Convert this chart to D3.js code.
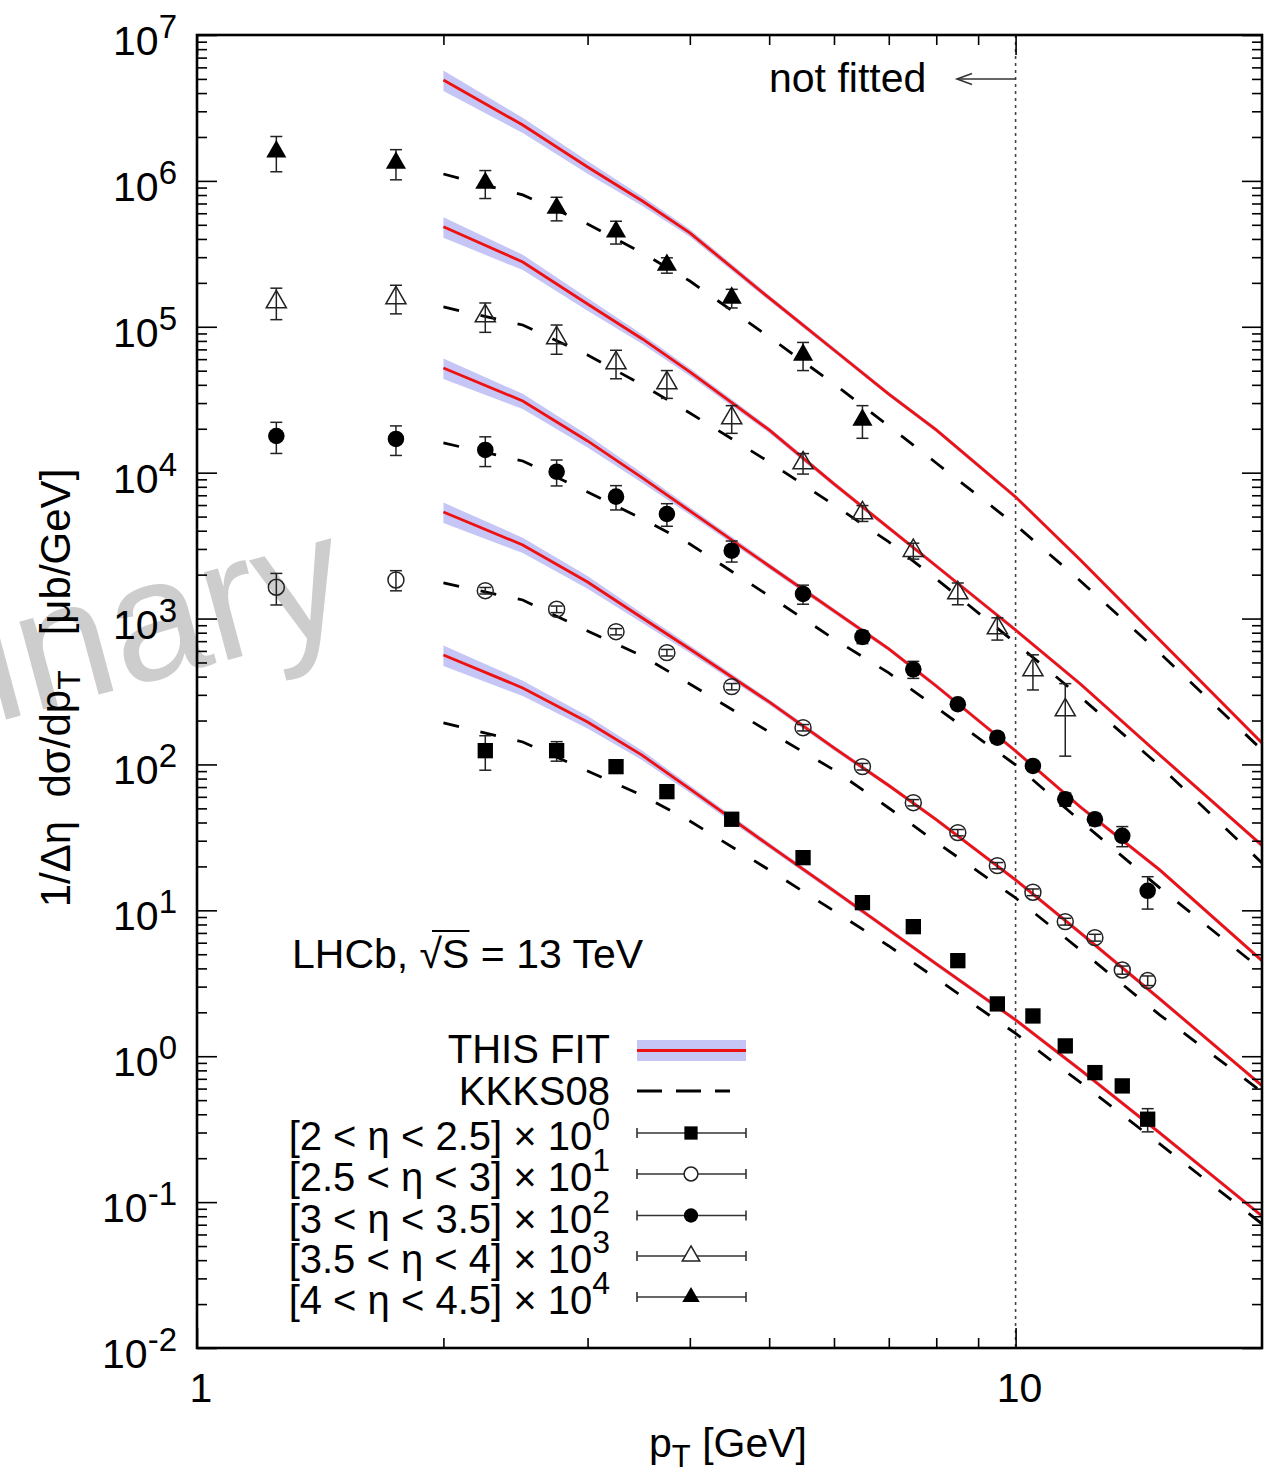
<!DOCTYPE html>
<html>
<head>
<meta charset="utf-8">
<script src="https://cdn.jsdelivr.net/npm/d3@7"></script>
<style>
  html, body { margin: 0; padding: 0; background: #fff; }
  svg { display: block; font-family: "Liberation Sans", Arial, Helvetica, sans-serif; }
</style>
</head>
<body>
<svg id="chart" width="1272" height="1476"></svg>
<script>
// ---------------- data ----------------
// LHCb 13 TeV, 1/Δη dσ/dpT [μb/GeV], each η bin scaled by 10^k
const etaLabels = ["[2 < η < 2.5]", "[2.5 < η < 3]", "[3 < η < 3.5]", "[3.5 < η < 4]", "[4 < η < 4.5]"];
const scaleExp = ["0", "1", "2", "3", "4"];

// measured points (pT bin centres, scaled values, errors)
const ptBin1 = [2.25, 2.75, 3.25, 3.75, 4.5, 5.5, 6.5, 7.5, 8.5, 9.5, 10.5, 11.5, 12.5, 13.5, 14.5];
const valBin1 = [124.3, 124.3, 96.6, 65.1, 42.1, 22.97, 11.29, 7.73, 4.52, 2.283, 1.888, 1.177, 0.772, 0.626, 0.370];
const errBin1 = [33, 19, 4, 2.6, 1.7, 0.9, 0.45, 0.3, 0.18, 0.09, 0.08, 0.05, 0.035, 0.03, 0.067];

const ptBin2 = [1.25, 1.75, 2.25, 2.75, 3.25, 3.75, 4.5, 5.5, 6.5, 7.5, 8.5, 9.5, 10.5, 11.5, 12.5, 13.5, 14.5];
const valBin2 = [1639, 1839, 1553, 1158, 813, 584, 341.5, 178.7, 96.6, 54.7, 34.1, 20.25, 13.31, 8.37, 6.50, 3.90, 3.30];
const errBin2 = [400, 290, 80, 60, 40, 30, 17, 9, 5, 2.7, 1.7, 1.0, 0.7, 0.45, 0.35, 0.25, 0.25];

const ptBin3 = [1.25, 1.75, 2.25, 2.75, 3.25, 3.75, 4.5, 5.5, 6.5, 7.5, 8.5, 9.5, 10.5, 11.5, 12.5, 13.5, 14.5];
const valBin3 = [17840, 17020, 14310, 10160, 6850, 5210, 2920, 1474, 748, 449, 258.6, 152.6, 97.7, 57.7, 42.1, 32.4, 13.6];
const errBin3 = [4300, 3900, 3300, 2050, 1300, 920, 480, 220, 75, 60, 20, 12, 8, 6, 4, 5.1, 3.4];

const ptBin4 = [1.25, 1.75, 2.25, 2.75, 3.25, 3.75, 4.5, 5.5, 6.5, 7.5, 8.5, 9.5, 10.5, 11.5];
const valBin4 = [147900, 157600, 118600, 83800, 56500, 41200, 23700, 11650, 5290, 2920, 1498, 862, 444, 236];
const errBin4 = [36000, 35000, 27000, 19000, 12500, 8900, 5100, 1870, 660, 365, 255, 150, 120, 122];

const ptBin5 = [1.25, 1.75, 2.25, 2.75, 3.25, 3.75, 4.5, 5.5, 6.5];
const valBin5 = [1585000, 1327000, 967000, 652000, 449000, 265000, 157600, 64100, 23000];
const errBin5 = [430000, 310000, 210000, 120000, 80000, 32000, 23000, 14000, 5800];

// theory curves on a common pT grid
const ptGrid = [2, 2.5, 3, 3.5, 4, 5, 6, 7, 8, 10, 12, 15, 20];
const fitBin1 = [563, 334.5, 195.6, 115.3, 67.95, 27.85, 13.58, 7.34, 4.29, 1.774, 0.806, 0.298, 0.0804];
const fitBin2 = [5380, 3195, 1781, 1009, 618.9, 268.2, 129.8, 71.7, 41.9, 16.16, 7.00, 2.47, 0.629];
const fitBin3 = [52200, 31000, 16500, 9200, 5470, 2293, 1128, 619, 345, 123.7, 51.1, 18.92, 4.52];
const fitBin4 = [485400, 278100, 143300, 82500, 49000, 19620, 8370, 4180, 2293, 835, 356, 116.2, 27.85];
const fitBin5 = [4916000, 2416000, 1245000, 728000, 440000, 157600, 69300, 34600, 19620, 6820, 2520, 713, 140.4];
// relative uncertainty of the fit (band half-width)
const fitBandRel = [0.16, 0.12, 0.10, 0.075, 0.06, 0.045, 0.04, 0.035, 0.035, 0.035, 0.035, 0.035, 0.035];

const kkksBin1 = [192.5, 142.6, 90.2, 61.3, 41.0, 18.92, 9.91, 5.70, 3.414, 1.433, 0.661, 0.2506, 0.0709];
const kkksBin2 = [1754, 1341, 822, 554, 356, 167.1, 91.7, 50.3, 29.4, 12.16, 5.35, 1.919, 0.569];
const kkksBin3 = [15980, 12030, 7370, 4820, 3245, 1428, 725, 424, 245.9, 99.2, 41.0, 14.24, 3.90];
const kkksBin4 = [136700, 102900, 64100, 39900, 25660, 11840, 6000, 3350, 1868, 680.5, 290.1, 97.7, 21.13];
const kkksBin5 = [1115000, 801000, 507000, 320500, 206000, 85100, 40550, 20900, 11650, 4380, 1810, 581, 125.7];

const yDecades = [-2, -1, 0, 1, 2, 3, 4, 5, 6, 7];
const xMajor = [1, 10];
const xMinor = [2, 3, 4, 5, 6, 7, 8, 9];
const fitCut = 10;

// ---------------- layout ----------------
const plot = { left: 197, right: 1262, top: 35, bottom: 1348 };
const RED = "#ee1111";
const BAND = "#c6c6f6";

const x = d3.scaleLog().domain([1, 20]).range([plot.left, plot.right]);
const y = d3.scaleLog().domain([1e-2, 1e7]).range([plot.bottom, plot.top]);

const svg = d3.select("#chart");

const markerOf = [
  { type: d3.symbolSquare, size: 235, filled: true },
  { type: d3.symbolCircle, size: 200, filled: false },
  { type: d3.symbolCircle, size: 215, filled: true },
  { type: d3.symbolTriangle, size: 175, filled: false },
  { type: d3.symbolTriangle, size: 175, filled: true }
];

const series = [
  { pt: ptBin1, val: valBin1, err: errBin1, fit: fitBin1, kkks: kkksBin1 },
  { pt: ptBin2, val: valBin2, err: errBin2, fit: fitBin2, kkks: kkksBin2 },
  { pt: ptBin3, val: valBin3, err: errBin3, fit: fitBin3, kkks: kkksBin3 },
  { pt: ptBin4, val: valBin4, err: errBin4, fit: fitBin4, kkks: kkksBin4 },
  { pt: ptBin5, val: valBin5, err: errBin5, fit: fitBin5, kkks: kkksBin5 }
].map((s, i) => Object.assign(s, { label: etaLabels[i], exp: scaleExp[i], marker: markerOf[i] }));

// ---------------- watermark ----------------
svg.append("text")
  .attr("transform", "translate(355,626) rotate(-15)")
  .attr("text-anchor", "end")
  .attr("font-size", 172)
  .attr("fill", "#cdcdcd")
  .text("Preliminary");

// ---------------- clip ----------------
svg.append("defs").append("clipPath").attr("id", "plotClip")
  .append("rect")
  .attr("x", plot.left).attr("y", plot.top)
  .attr("width", plot.right - plot.left).attr("height", plot.bottom - plot.top);

const g = svg.append("g").attr("clip-path", "url(#plotClip)");

// vertical dotted line at the fit boundary
g.append("line")
  .attr("x1", x(fitCut)).attr("x2", x(fitCut))
  .attr("y1", plot.top).attr("y2", plot.bottom)
  .attr("stroke", "#444").attr("stroke-width", 1.6)
  .attr("stroke-dasharray", "3,4");

// ---------------- theory curves ----------------
const area = d3.area()
  .x(d => x(d.pt))
  .y0(d => y(d.v * (1 - d.r)))
  .y1(d => y(d.v * (1 + d.r)));
const line = d3.line().x(d => x(d.pt)).y(d => y(d.v));

series.forEach(s => {
  const pts = ptGrid.map((pt, i) => ({ pt, v: s.fit[i], r: fitBandRel[i] }));
  g.append("path").attr("d", area(pts)).attr("fill", BAND).attr("stroke", "none");
});
series.forEach(s => {
  const pts = ptGrid.map((pt, i) => ({ pt, v: s.kkks[i] }));
  g.append("path").attr("d", line(pts))
    .attr("fill", "none").attr("stroke", "#000").attr("stroke-width", 2.8)
    .attr("stroke-dasharray", "16,22");
});
series.forEach(s => {
  const pts = ptGrid.map((pt, i) => ({ pt, v: s.fit[i] }));
  g.append("path").attr("d", line(pts))
    .attr("fill", "none").attr("stroke", RED).attr("stroke-width", 2.8);
});

// ---------------- data points ----------------
series.forEach(s => {
  const pts = s.pt.map((pt, i) => ({ pt, v: s.val[i], e: s.err[i] }));
  const eg = g.append("g").attr("stroke", "#222").attr("stroke-width", 1.5);
  pts.forEach(d => {
    const cx = x(d.pt), yTop = y(d.v + d.e), yBot = y(Math.max(d.v - d.e, 1e-6));
    eg.append("line").attr("x1", cx).attr("x2", cx).attr("y1", yTop).attr("y2", yBot);
    eg.append("line").attr("x1", cx - 6).attr("x2", cx + 6).attr("y1", yTop).attr("y2", yTop);
    eg.append("line").attr("x1", cx - 6).attr("x2", cx + 6).attr("y1", yBot).attr("y2", yBot);
  });
  const sym = d3.symbol().type(s.marker.type).size(s.marker.size);
  g.append("g").selectAll("path").data(pts).join("path")
    .attr("transform", d => `translate(${x(d.pt)},${y(d.v)})`)
    .attr("d", sym)
    .attr("fill", s.marker.filled ? "#000" : "none")
    .attr("stroke", s.marker.filled ? "none" : "#222")
    .attr("stroke-width", 1.5);
});

// ---------------- frame and ticks ----------------
const yMinor = [];
for (let e = -2; e < 7; e++) for (let m = 2; m <= 9; m++) yMinor.push(m * Math.pow(10, e));
const yMajorVals = yDecades.map(e => Math.pow(10, e));

function tickAxis(axis, transform) {
  const a = svg.append("g").attr("transform", transform).call(axis);
  a.select(".domain").remove();
  a.selectAll("text").remove();
  a.selectAll("line").attr("stroke", "#000").attr("stroke-width", 1.6);
}
tickAxis(d3.axisLeft(y).tickValues(yMajorVals).tickSizeInner(-20).tickSizeOuter(0), `translate(${plot.left},0)`);
tickAxis(d3.axisLeft(y).tickValues(yMinor).tickSizeInner(-10).tickSizeOuter(0), `translate(${plot.left},0)`);
tickAxis(d3.axisRight(y).tickValues(yMajorVals).tickSizeInner(-20).tickSizeOuter(0), `translate(${plot.right},0)`);
tickAxis(d3.axisRight(y).tickValues(yMinor).tickSizeInner(-10).tickSizeOuter(0), `translate(${plot.right},0)`);
tickAxis(d3.axisBottom(x).tickValues(xMajor).tickSizeInner(-20).tickSizeOuter(0), `translate(0,${plot.bottom})`);
tickAxis(d3.axisBottom(x).tickValues(xMinor).tickSizeInner(-10).tickSizeOuter(0), `translate(0,${plot.bottom})`);
tickAxis(d3.axisTop(x).tickValues(xMajor).tickSizeInner(-20).tickSizeOuter(0), `translate(0,${plot.top})`);
tickAxis(d3.axisTop(x).tickValues(xMinor).tickSizeInner(-10).tickSizeOuter(0), `translate(0,${plot.top})`);

svg.append("rect")
  .attr("x", plot.left).attr("y", plot.top)
  .attr("width", plot.right - plot.left).attr("height", plot.bottom - plot.top)
  .attr("fill", "none").attr("stroke", "#000").attr("stroke-width", 2.6);

// ---------------- tick labels ----------------
yDecades.forEach(e => {
  const t = svg.append("text")
    .attr("x", 177).attr("y", y(Math.pow(10, e)) + 20)
    .attr("text-anchor", "end").attr("font-size", 41).attr("fill", "#000");
  t.append("tspan").text("10");
  t.append("tspan").attr("dy", -17).attr("font-size", 33).text(String(e));
});
xMajor.forEach(v => {
  svg.append("text")
    .attr("x", x(v) + 4).attr("y", 1402)
    .attr("text-anchor", "middle").attr("font-size", 41).attr("fill", "#000")
    .text(String(v));
});

// ---------------- axis titles ----------------
const xt = svg.append("text")
  .attr("x", 728).attr("y", 1457)
  .attr("text-anchor", "middle").attr("font-size", 41).attr("fill", "#000");
xt.append("tspan").text("p");
xt.append("tspan").attr("dy", 10).attr("font-size", 31).text("T");
xt.append("tspan").attr("dy", -10).text(" [GeV]");

const yt = svg.append("text")
  .attr("transform", "translate(70,688) rotate(-90)")
  .attr("text-anchor", "middle").attr("font-size", 42).attr("fill", "#000");
yt.append("tspan").text("1/Δη\u00a0\u00a0dσ/dp");
yt.append("tspan").attr("dy", 10).attr("font-size", 32).text("T");
yt.append("tspan").attr("dy", -10).text("\u00a0\u00a0\u00a0[μb/GeV]");

// ---------------- annotations ----------------
const lhcb = svg.append("text")
  .attr("x", 292).attr("y", 968)
  .attr("font-size", 41).attr("fill", "#000")
  .text("LHCb, √S = 13 TeV");
{
  const node = lhcb.node();
  const root = node.getExtentOfChar(6);
  const sChar = node.getExtentOfChar(7);
  svg.append("line")
    .attr("x1", root.x + root.width * 0.55).attr("x2", sChar.x + sChar.width)
    .attr("y1", 931).attr("y2", 931)
    .attr("stroke", "#000").attr("stroke-width", 2);
}

svg.append("text")
  .attr("x", 769).attr("y", 92)
  .attr("font-size", 41).attr("fill", "#000")
  .text("not fitted");
const arrowG = svg.append("g").attr("stroke", "#333").attr("stroke-width", 1.6).attr("fill", "none");
arrowG.append("line").attr("x1", x(fitCut)).attr("x2", 957).attr("y1", 79).attr("y2", 79);
arrowG.append("path").attr("d", "M972,73.5 L957,79 L972,84.5");

// ---------------- legend ----------------
const legX0 = 637, legX1 = 746, legMid = 691, legText = 610;
// THIS FIT
svg.append("rect").attr("x", legX0).attr("y", 1040).attr("width", legX1 - legX0).attr("height", 21).attr("fill", BAND);
svg.append("line").attr("x1", legX0).attr("x2", legX1).attr("y1", 1050.5).attr("y2", 1050.5)
  .attr("stroke", RED).attr("stroke-width", 2.8);
svg.append("text").attr("x", legText).attr("y", 1063).attr("text-anchor", "end")
  .attr("font-size", 40).attr("fill", "#000").text("THIS FIT");
// KKKS08
svg.append("line").attr("x1", legX0).attr("x2", 730).attr("y1", 1091).attr("y2", 1091)
  .attr("stroke", "#000").attr("stroke-width", 2.8).attr("stroke-dasharray", "25,14");
svg.append("text").attr("x", legText).attr("y", 1105).attr("text-anchor", "end")
  .attr("font-size", 40).attr("fill", "#000").text("KKKS08");

const legRowY = [1133, 1174, 1215.5, 1256, 1297];
series.forEach((s, i) => {
  const ry = legRowY[i];
  const lg = svg.append("g").attr("stroke", "#333").attr("stroke-width", 1.6);
  lg.append("line").attr("x1", legX0).attr("x2", legX1).attr("y1", ry).attr("y2", ry);
  lg.append("line").attr("x1", legX0).attr("x2", legX0).attr("y1", ry - 5).attr("y2", ry + 5);
  lg.append("line").attr("x1", legX1).attr("x2", legX1).attr("y1", ry - 5).attr("y2", ry + 5);
  svg.append("path")
    .attr("transform", `translate(${legMid},${ry})`)
    .attr("d", d3.symbol().type(s.marker.type).size(s.marker.size * 0.75))
    .attr("fill", s.marker.filled ? "#000" : "#fff")
    .attr("stroke", s.marker.filled ? "none" : "#222")
    .attr("stroke-width", 1.5);
  const t = svg.append("text").attr("x", legText).attr("y", ry + 17)
    .attr("text-anchor", "end").attr("font-size", 40).attr("fill", "#000");
  t.append("tspan").text(s.label + " × 10");
  t.append("tspan").attr("dy", -20).attr("font-size", 32).text(s.exp);
});
</script>
</body>
</html>
